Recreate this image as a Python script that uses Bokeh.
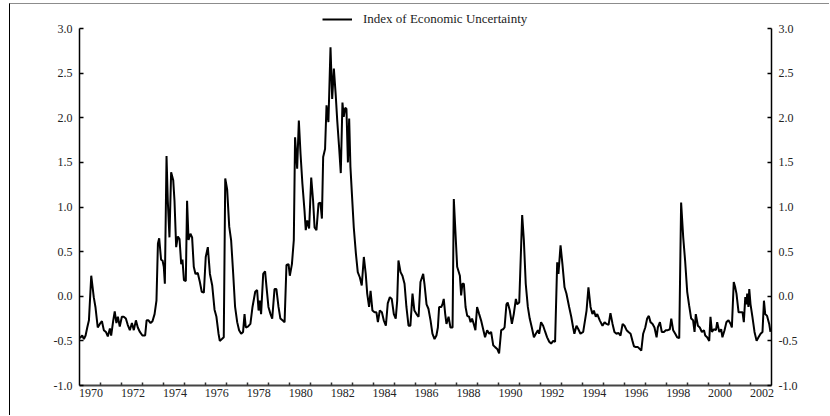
from bokeh.plotting import figure
from bokeh.models import (LinearAxis, FixedTicker, CustomJSTickFormatter, Legend,
                          LegendItem, Range1d, PrintfTickFormatter)
from bokeh.embed import file_html
from bokeh.resources import INLINE

# ---- data (decimal year, index value) ----
series_1970s = [
    (1970.02, -0.47), (1970.13, -0.44), (1970.21, -0.48), (1970.29, -0.44), (1970.37, -0.35),
    (1970.45, -0.27), (1970.56, 0.23), (1970.68, -0.01), (1970.76, -0.12), (1970.87, -0.35),
    (1970.97, -0.31), (1971.07, -0.28), (1971.16, -0.38), (1971.26, -0.40), (1971.35, -0.45),
    (1971.45, -0.36), (1971.51, -0.44), (1971.61, -0.27), (1971.68, -0.17), (1971.76, -0.30),
    (1971.83, -0.23), (1971.92, -0.34), (1972.02, -0.23), (1972.11, -0.23), (1972.21, -0.25),
    (1972.30, -0.32), (1972.40, -0.38), (1972.50, -0.30), (1972.59, -0.38), (1972.69, -0.27),
    (1972.78, -0.35), (1972.88, -0.40), (1973.00, -0.44), (1973.13, -0.44), (1973.20, -0.27),
    (1973.29, -0.27), (1973.39, -0.30), (1973.48, -0.28), (1973.58, -0.20), (1973.67, -0.05),
    (1973.74, 0.59), (1973.80, 0.65), (1973.89, 0.41), (1973.96, 0.40), (1974.02, 0.33),
    (1974.07, 0.14), (1974.15, 1.57), (1974.21, 1.07), (1974.29, 0.66), (1974.37, 1.39),
    (1974.47, 1.30), (1974.53, 1.07), (1974.61, 0.55), (1974.69, 0.67), (1974.77, 0.64),
    (1974.85, 0.36), (1974.91, 0.41), (1974.98, 0.18), (1975.07, 0.17), (1975.13, 1.07),
    (1975.20, 0.63), (1975.29, 0.70), (1975.37, 0.66), (1975.45, 0.33), (1975.53, 0.25),
    (1975.64, 0.26), (1975.74, 0.16), (1975.83, 0.05), (1975.93, 0.04), (1976.02, 0.44),
    (1976.12, 0.55), (1976.22, 0.25), (1976.33, 0.12), (1976.44, -0.15), (1976.53, -0.23),
    (1976.63, -0.42), (1976.69, -0.50), (1976.79, -0.48), (1976.88, -0.46), (1976.95, 1.32),
    (1977.04, 1.20), (1977.14, 0.78), (1977.23, 0.63), (1977.33, 0.25), (1977.42, -0.12),
    (1977.52, -0.29), (1977.61, -0.38), (1977.71, -0.42), (1977.80, -0.40), (1977.87, -0.20),
    (1977.93, -0.35), (1978.03, -0.34), (1978.15, -0.31), (1978.25, -0.12), (1978.38, 0.05),
    (1978.47, 0.07), (1978.54, -0.16), (1978.60, -0.05), (1978.66, -0.20), (1978.76, 0.25),
    (1978.85, 0.28), (1978.92, 0.10), (1979.01, -0.12), (1979.11, -0.20), (1979.19, -0.25),
    (1979.30, 0.08), (1979.39, 0.08), (1979.49, -0.12), (1979.58, -0.25), (1979.68, -0.27),
    (1979.78, -0.29), (1979.87, 0.35), (1979.97, 0.36),
]
series_1980s = [
    (1980.03, 0.23), (1980.13, 0.36), (1980.22, 0.63), (1980.28, 1.78), (1980.38, 1.43),
    (1980.46, 1.97), (1980.54, 1.60), (1980.63, 1.26), (1980.73, 0.96), (1980.79, 0.74),
    (1980.86, 0.85), (1980.95, 0.76), (1981.05, 1.33), (1981.14, 1.07), (1981.21, 0.77),
    (1981.30, 0.74), (1981.40, 1.04), (1981.49, 1.05), (1981.56, 0.87), (1981.62, 1.56),
    (1981.71, 1.65), (1981.78, 2.14), (1981.87, 1.95), (1981.97, 2.79), (1982.05, 2.21),
    (1982.13, 2.55), (1982.22, 2.25), (1982.29, 1.97), (1982.38, 1.67), (1982.46, 1.38),
    (1982.54, 2.17), (1982.60, 2.01), (1982.67, 2.11), (1982.73, 2.10), (1982.80, 1.50),
    (1982.86, 1.99), (1982.92, 1.45), (1982.99, 1.15), (1983.08, 0.77), (1983.18, 0.48),
    (1983.27, 0.27), (1983.37, 0.21), (1983.46, 0.12), (1983.56, 0.44), (1983.65, 0.25),
    (1983.72, 0.03), (1983.81, -0.12), (1983.88, 0.06), (1983.97, -0.16), (1984.07, -0.18),
    (1984.16, -0.18), (1984.23, -0.29), (1984.32, -0.16), (1984.42, -0.18), (1984.51, -0.27),
    (1984.61, -0.33), (1984.70, -0.08), (1984.80, -0.01), (1984.89, -0.03), (1984.99, -0.20),
    (1985.08, -0.25), (1985.15, -0.05), (1985.21, 0.40), (1985.31, 0.27), (1985.40, 0.23),
    (1985.50, 0.14), (1985.59, -0.12), (1985.69, -0.33), (1985.78, -0.33), (1985.88, 0.03),
    (1985.97, -0.16), (1986.07, -0.20), (1986.17, -0.23), (1986.26, 0.16), (1986.39, 0.25),
    (1986.45, 0.14), (1986.55, -0.09), (1986.64, -0.14), (1986.74, -0.27), (1986.83, -0.42),
    (1986.93, -0.48), (1987.02, -0.44), (1987.09, -0.35), (1987.15, -0.12), (1987.25, -0.12),
    (1987.31, -0.09), (1987.37, -0.03), (1987.44, -0.20), (1987.50, -0.31), (1987.60, -0.23),
    (1987.69, -0.35), (1987.79, -0.35), (1987.85, 1.09), (1988.01, 0.33), (1988.14, 0.23),
    (1988.20, 0.01), (1988.26, 0.14), (1988.33, 0.14), (1988.41, -0.12), (1988.49, -0.22),
    (1988.58, -0.23), (1988.65, -0.29), (1988.72, -0.25), (1988.80, -0.31), (1988.88, -0.38),
    (1988.96, -0.12), (1989.06, -0.20), (1989.15, -0.27), (1989.25, -0.37), (1989.34, -0.46),
    (1989.44, -0.38), (1989.54, -0.42), (1989.63, -0.40), (1989.73, -0.55), (1989.82, -0.57),
    (1989.92, -0.59),
]
series_1990s = [
    (1990.01, -0.64), (1990.11, -0.38), (1990.20, -0.37), (1990.27, -0.35), (1990.36, -0.09),
    (1990.42, -0.07), (1990.52, -0.16), (1990.62, -0.31), (1990.71, -0.20), (1990.81, -0.03),
    (1990.87, -0.09), (1990.97, -0.07), (1991.11, 0.91), (1991.19, 0.63), (1991.28, 0.14),
    (1991.38, -0.12), (1991.47, -0.25), (1991.57, -0.35), (1991.67, -0.46), (1991.76, -0.42),
    (1991.86, -0.38), (1991.92, -0.42), (1992.01, -0.29), (1992.11, -0.33), (1992.21, -0.40),
    (1992.30, -0.46), (1992.40, -0.51), (1992.49, -0.53), (1992.59, -0.50), (1992.68, -0.51),
    (1992.78, 0.38), (1992.84, 0.25), (1992.94, 0.57), (1993.03, 0.36), (1993.13, 0.10),
    (1993.22, 0.03), (1993.35, -0.12), (1993.45, -0.23), (1993.54, -0.35), (1993.60, -0.42),
    (1993.70, -0.33), (1993.79, -0.37), (1993.89, -0.42), (1994.02, -0.40), (1994.18, -0.16),
    (1994.27, 0.10), (1994.37, -0.12), (1994.46, -0.20), (1994.53, -0.16), (1994.62, -0.23),
    (1994.69, -0.20), (1994.81, -0.27), (1994.94, -0.33), (1995.04, -0.29), (1995.13, -0.31),
    (1995.23, -0.32), (1995.32, -0.19), (1995.42, -0.31), (1995.51, -0.40), (1995.61, -0.42),
    (1995.70, -0.41), (1995.80, -0.44), (1995.90, -0.31), (1995.99, -0.33), (1996.09, -0.38),
    (1996.18, -0.40), (1996.28, -0.42), (1996.37, -0.50), (1996.44, -0.56), (1996.53, -0.57),
    (1996.63, -0.57), (1996.72, -0.59), (1996.79, -0.61), (1996.88, -0.42), (1996.98, -0.35),
    (1997.07, -0.25), (1997.15, -0.22), (1997.23, -0.29), (1997.33, -0.31), (1997.42, -0.35),
    (1997.52, -0.46), (1997.58, -0.35), (1997.68, -0.29), (1997.77, -0.40), (1997.87, -0.40),
    (1997.96, -0.38), (1998.06, -0.38), (1998.15, -0.37), (1998.22, -0.25), (1998.31, -0.38),
    (1998.41, -0.42), (1998.50, -0.46), (1998.60, -0.47), (1998.69, 1.05), (1998.79, 0.66),
    (1998.88, 0.40), (1998.98, 0.05), (1999.07, -0.10), (1999.17, -0.25), (1999.26, -0.27),
    (1999.33, -0.40), (1999.39, -0.20), (1999.49, -0.33), (1999.58, -0.35), (1999.68, -0.40),
    (1999.78, -0.38), (1999.84, -0.44), (1999.93, -0.46),
]
series_2000s = [
    (2000.03, -0.50), (2000.09, -0.23), (2000.16, -0.40), (2000.25, -0.37), (2000.35, -0.38),
    (2000.41, -0.29), (2000.51, -0.40), (2000.60, -0.37), (2000.66, -0.46), (2000.76, -0.38),
    (2000.85, -0.29), (2000.95, -0.27), (2001.05, -0.31), (2001.11, -0.35), (2001.20, 0.16),
    (2001.27, 0.10), (2001.33, 0.03), (2001.43, -0.18), (2001.52, -0.18), (2001.62, -0.18),
    (2001.68, -0.29), (2001.75, -0.01), (2001.81, -0.09), (2001.84, 0.03), (2001.90, -0.12),
    (2001.94, 0.08), (2002.00, -0.09), (2002.09, -0.23), (2002.19, -0.40), (2002.29, -0.50),
    (2002.38, -0.46), (2002.48, -0.42), (2002.57, -0.40), (2002.64, -0.05), (2002.70, -0.20),
    (2002.79, -0.22), (2002.89, -0.31), (2002.95, -0.40),
]

series_name = "Index of Economic Uncertainty"
label_years = list(range(1970, 2003, 2))
year_ticks = list(range(1971, 2003))
y_tick_values = [-1.0, -0.5, 0.0, 0.5, 1.0, 1.5, 2.0, 2.5, 3.0]

readings = series_1970s + series_1980s + series_1990s + series_2000s
dates = [d for d, _ in readings]
values = [v for _, v in readings]

SERIF = "'Liberation Serif', 'Times New Roman', serif"
Y_MIN, Y_MAX = -1.0, 3.0
HEADROOM = 0.2465   # extra room above 3.0 for the legend (frame only, not data)

p = figure(width=820, height=412, output_backend="svg", toolbar_location=None,
           x_range=Range1d(1970, 2003), y_range=Range1d(Y_MIN, Y_MAX + HEADROOM),
           x_axis_location=None, y_axis_location=None,
           min_border_left=69, min_border_right=59, min_border_top=2, min_border_bottom=31,
           background_fill_color="white", border_fill_color="white",
           outline_line_color=None)
p.grid.visible = False
p.styles = {"margin-left": "9px", "margin-top": "3px",
            "border-left": "1px solid #000000", "border-top": "1px solid #8c8c8c"}

r = p.line(dates, values, line_color="black", line_width=2)

legend = Legend(items=[LegendItem(label=series_name, renderers=[r])],
                orientation="horizontal", location=(243, 358),
                glyph_width=30, glyph_height=12, label_height=12,
                label_standoff=11, padding=0, margin=0, spacing=0,
                label_text_font=SERIF, label_text_font_size="13px",
                label_text_color="#222222",
                border_line_color=None, background_fill_alpha=0)
p.add_layout(legend, "center")

for side in ("left", "right"):
    ax = LinearAxis(ticker=FixedTicker(ticks=y_tick_values), bounds=(Y_MIN, Y_MAX),
                    formatter=PrintfTickFormatter(format="%.1f"),
                    major_tick_in=4, major_tick_out=0,
                    major_tick_line_width=1.5, major_tick_line_color="black",
                    minor_tick_line_color=None,
                    axis_line_color="black", axis_line_width=1.5,
                    major_label_text_font=SERIF, major_label_text_font_size="12px",
                    major_label_text_color="#222222",
                    major_label_standoff=7)
    p.add_layout(ax, side)

xa = LinearAxis(ticker=FixedTicker(ticks=[y + 0.55 for y in label_years],
                                   minor_ticks=year_ticks),
                formatter=CustomJSTickFormatter(code="return String(Math.floor(tick));"),
                major_tick_in=0, major_tick_out=0, major_tick_line_color=None,
                minor_tick_in=3, minor_tick_out=0, minor_tick_line_color="#333333",
                minor_tick_line_width=1.5,
                axis_line_color="#444444", axis_line_width=2,
                major_label_text_font=SERIF, major_label_text_font_size="12px",
                major_label_text_color="#222222",
                major_label_standoff=3)
p.add_layout(xa, "below")

open("out.html", "w").write(file_html(p, INLINE))
